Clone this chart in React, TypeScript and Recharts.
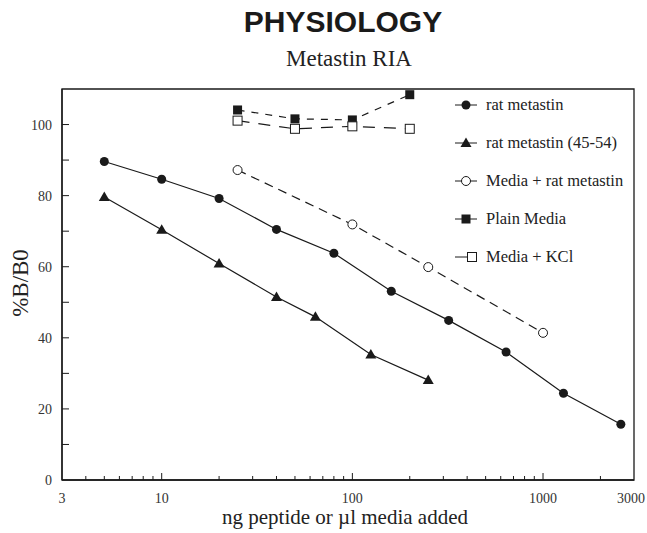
import React from 'react';
import { LineChart, Line, XAxis, YAxis, ReferenceArea } from 'recharts';

// rat metastin (filled circles)
const ratX = [5, 10, 20, 40, 80, 160, 320, 640, 1280, 2560];
const ratY = [89.6, 84.6, 79.2, 70.5, 63.8, 53.1, 44.9, 36.0, 24.4, 15.7];

// rat metastin (45-54) (filled triangles)
const fragX = [5, 10, 20, 40, 64, 125, 250];
const fragY = [79.6, 70.4, 60.9, 51.5, 45.9, 35.3, 28.1];

// Media + rat metastin (open circles)
const mediaRatX = [25, 100, 250, 1000];
const mediaRatY = [87.2, 71.9, 59.9, 41.4];

// Plain Media (filled squares)
const plainX = [25, 50, 100, 200];
const plainY = [104.1, 101.6, 101.3, 108.4];

// Media + KCl (open squares)
const kclX = [25, 50, 100, 200];
const kclY = [101.1, 98.8, 99.5, 98.8];

const xTicks = [3, 4, 5, 6, 7, 8, 9, 10, 20, 30, 40, 50, 60, 70, 80, 90, 100, 200, 300, 400, 500, 600, 700, 800, 900, 1000, 2000, 3000];
const xLabels = [3, 10, 100, 1000, 3000];
const yTicks = [0, 10, 20, 30, 40, 50, 60, 70, 80, 90, 100];
const yLabels = [0, 20, 40, 60, 80, 100];

const legendNames = ['rat metastin', 'rat metastin (45-54)', 'Media + rat metastin', 'Plain Media', 'Media + KCl'];

const toPoints = (xs: number[], ys: number[]) => xs.map((x, i) => ({ x, y: ys[i] }));

const INK = '#1a1a1a';
const SERIF = 'Liberation Serif, serif';

const marker = (kind: string, cx: number, cy: number, key?: string) => {
  switch (kind) {
    case 'circle':
      return <circle key={key} cx={cx} cy={cy} r={4.5} fill={INK} />;
    case 'triangle':
      return <path key={key} d={`M${cx},${cy - 5.5}L${cx + 5.5},${cy + 4}L${cx - 5.5},${cy + 4}Z`} fill={INK} />;
    case 'openCircle':
      return <circle key={key} cx={cx} cy={cy} r={4.5} fill="#fff" stroke={INK} strokeWidth={1} />;
    case 'square':
      return <rect key={key} x={cx - 4.5} y={cy - 4.5} width={9} height={9} fill={INK} />;
    default:
      return <rect key={key} x={cx - 4.5} y={cy - 4.5} width={9} height={9} fill="#fff" stroke={INK} strokeWidth={1} />;
  }
};

const dotOf = (kind: string) => (p: any) => marker(kind, p.cx, p.cy, `${kind}-${p.index}`);

const XTick = (props: any) => {
  const { x, y, payload } = props;
  const v = payload.value;
  const major = v === 10 || v === 100 || v === 1000;
  const last = v === 3000;
  return (
    <g>
      {v !== 3 && !last && (
        <line x1={x} x2={x} y1={y} y2={y - (major ? 7 : 4)} stroke={INK} strokeWidth={1} />
      )}
      {xLabels.includes(v) && (
        <text
          x={last ? x + 11 : x}
          y={y + 23}
          textAnchor={last ? 'end' : 'middle'}
          style={{ fontFamily: SERIF, fontSize: 14 }}
          fill="#333"
        >
          {v}
        </text>
      )}
    </g>
  );
};

const YTick = (props: any) => {
  const { x, y, payload } = props;
  const v = payload.value;
  return (
    <g>
      {v !== 0 && <line x1={x} x2={x + 7} y1={y} y2={y} stroke={INK} strokeWidth={1} />}
      {yLabels.includes(v) && (
        <text x={x - 10} y={y + 5} textAnchor="end" style={{ fontFamily: SERIF, fontSize: 14 }} fill="#333">
          {v}
        </text>
      )}
    </g>
  );
};

const legendKinds = ['circle', 'triangle', 'openCircle', 'square', 'openSquare'];

const LegendBox = () => (
  <svg width={182} height={180} style={{ position: 'absolute', left: 450, top: 90 }}>
    {legendNames.map((name, i) => {
      const cy = 15 + i * 38;
      const kind = legendKinds[i];
      const mx = kind === 'openSquare' ? 22 : 16;
      return (
        <g key={name}>
          <line x1={5} x2={kind === 'openSquare' ? 22 : 27} y1={cy} y2={cy} stroke={INK} strokeWidth={1} />
          {marker(kind, mx, cy)}
          <text x={36} y={cy + 5} style={{ fontFamily: SERIF, fontSize: 16.5 }} fill="#222">
            {name}
          </text>
        </g>
      );
    })}
  </svg>
);

const App = () => {
  return (
    <div style={{ position: 'absolute', left: 0, top: 0, width: 647, height: 533, background: '#fff' }}>
      <div
        style={{
          position: 'absolute', top: 4, left: 0, width: 686, textAlign: 'center', lineHeight: 1.2,
          fontFamily: 'Liberation Sans, sans-serif', fontWeight: 'bold', fontSize: 30, color: '#1a1a1a',
        }}
      >
        PHYSIOLOGY
      </div>
      <div
        style={{
          position: 'absolute', top: 47, left: 0, width: 698, textAlign: 'center', lineHeight: 1,
          fontFamily: SERIF, fontSize: 23, color: '#222',
        }}
      >
        Metastin RIA
      </div>
      <div
        style={{
          position: 'absolute', top: 507, left: 0, width: 690, textAlign: 'center', lineHeight: 1,
          fontFamily: SERIF, fontSize: 21, color: '#222',
        }}
      >
        ng peptide or µl media added
      </div>
      <div
        style={{
          position: 'absolute', left: 20, top: 283, transform: 'translate(-50%, -50%) rotate(-90deg)',
          fontFamily: SERIF, fontSize: 23, lineHeight: 1, color: '#222', whiteSpace: 'nowrap',
        }}
      >
        %B/B0
      </div>
      <LineChart width={647} height={533} margin={{ top: 89, right: 13, bottom: 23, left: 22 }}>
        <XAxis
          dataKey="x"
          type="number"
          scale="log"
          domain={[3, 3000]}
          ticks={xTicks}
          interval={0}
          allowDataOverflow
          height={30}
          tickSize={0}
          tickMargin={0}
          tick={<XTick />}
          axisLine={{ stroke: INK, strokeWidth: 1.3 }}
        />
        <YAxis
          type="number"
          domain={[0, 110]}
          ticks={yTicks}
          interval={0}
          allowDataOverflow
          width={40}
          tickSize={0}
          tickMargin={0}
          tick={<YTick />}
          axisLine={{ stroke: INK, strokeWidth: 1.3 }}
        />
        <ReferenceArea x1={3} x2={3000} y1={0} y2={110} fill="none" stroke={INK} strokeWidth={1.3} ifOverflow="visible" />
        <Line data={toPoints(ratX, ratY)} dataKey="y" stroke={INK} strokeWidth={1.2} dot={dotOf('circle')} isAnimationActive={false} />
        <Line data={toPoints(fragX, fragY)} dataKey="y" stroke={INK} strokeWidth={1.2} dot={dotOf('triangle')} isAnimationActive={false} />
        <Line data={toPoints(mediaRatX, mediaRatY)} dataKey="y" stroke={INK} strokeWidth={1.2} strokeDasharray="9 6" dot={dotOf('openCircle')} isAnimationActive={false} />
        <Line data={toPoints(plainX, plainY)} dataKey="y" stroke={INK} strokeWidth={1.2} strokeDasharray="7 7" dot={dotOf('square')} isAnimationActive={false} />
        <Line data={toPoints(kclX, kclY)} dataKey="y" stroke={INK} strokeWidth={1.2} strokeDasharray="12 9" dot={dotOf('openSquare')} isAnimationActive={false} />
      </LineChart>
      <LegendBox />
    </div>
  );
};

export default App;
